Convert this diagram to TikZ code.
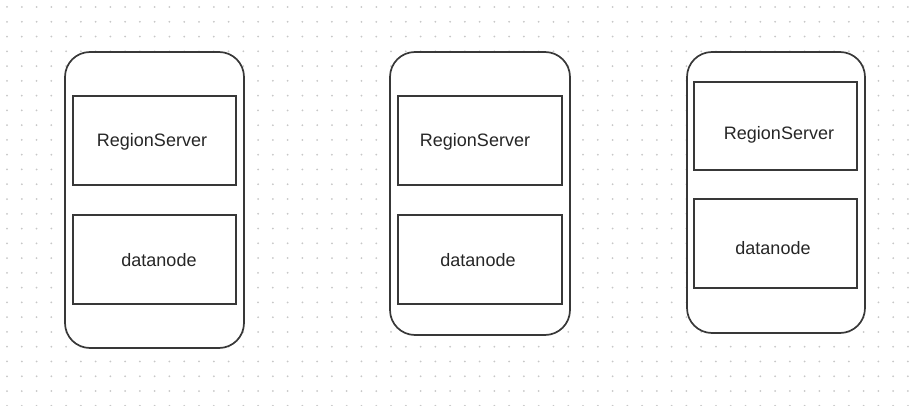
\documentclass[tikz,border=0pt]{standalone}
\usepackage{fontspec}
\setmainfont{Liberation Sans}
\begin{document}
\begin{tikzpicture}[x=1pt,y=-1pt,
  server/.style={draw=black!78,line width=1.7pt,fill=white,rounded corners=25pt,
    inner sep=0pt},
  part/.style={draw=black!78,line width=1.6pt,fill=white,inner sep=0pt,
    minimum width=163pt,minimum height=89pt},
  caption/.style={anchor=base,inner sep=0pt,font=\fontsize{18}{20}\selectfont,
    text=black!85}]
% page and dotted grid
\useasboundingbox (0,0) rectangle (911,406);
\fill[white] (0,0) rectangle (911,406);
\foreach \i in {0,...,61}
  \foreach \j in {0,...,27}
    \fill[black!22] ({7+14.77*\i},{7+14.77*\j}) circle (1pt);

% first server
\node[server,minimum width=179pt,minimum height=296pt] (srvA) at (154.5,200) {};
\node[part] (rsA) at (154.5,140.5) {};
\node[part] (dnA) at (154.5,259.5) {};
\node[caption] (rsAtxt) at (152,147) {RegionServer};
\node[caption] (dnAtxt) at (159,266.5) {datanode};

% second server
\node[server,minimum width=180pt,minimum height=283pt] (srvB) at (480,193.5) {};
\node[part,minimum width=164pt] (rsB) at (480,140.5) {};
\node[part,minimum width=164pt] (dnB) at (480,259.5) {};
\node[caption] (rsBtxt) at (475,146.5) {RegionServer};
\node[caption] (dnBtxt) at (478,266.5) {datanode};

% third server
\node[server,minimum width=178pt,minimum height=281pt] (srvC) at (776,192.5) {};
\node[part,minimum height=88pt] (rsC) at (775.5,126) {};
\node[part] (dnC) at (775.5,243.5) {};
\node[caption] (rsCtxt) at (779,139.5) {RegionServer};
\node[caption] (dnCtxt) at (773,255) {datanode};
\end{tikzpicture}
\end{document}
